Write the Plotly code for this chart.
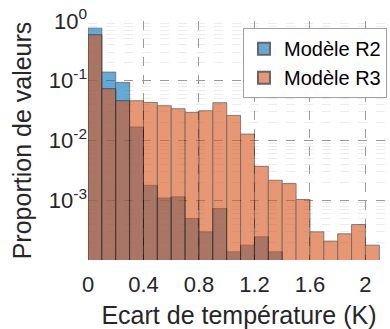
import plotly.graph_objects as go

# Bin centers (bin width 0.1 K)
bins_r3 = [0.05, 0.15, 0.25, 0.35, 0.45, 0.55, 0.65, 0.75, 0.85, 0.95,
           1.05, 1.15, 1.25, 1.35, 1.45, 1.55, 1.65, 1.75, 1.85, 1.95, 2.05]
vals_r3 = [0.587, 0.0735, 0.0463, 0.0463, 0.0434, 0.0382, 0.0340, 0.0296, 0.0315, 0.0429,
           0.0263, 0.0128, 0.0037, 0.00216, 0.0019, 0.00103, 0.000296, 0.000207, 0.000274,
           0.000392, 0.000177]

bins_r2 = [0.05, 0.15, 0.25, 0.35, 0.45, 0.55, 0.65, 0.75, 0.85, 0.95,
           1.05, 1.15, 1.25, 1.35]
vals_r2 = [0.759, 0.1396, 0.0938, 0.0168, 0.00178, 0.00109, 0.00114, 0.000494, 0.000296,
           0.000726, 0.000137, 0.000177, 0.000244, 0.000137]

x_ticks = [0, 0.4, 0.8, 1.2, 1.6, 2]
x_tick_labels = ["0", "0.4", "0.8", "1.2", "1.6", "2"]
y_ticks = [1e-3, 1e-2, 1e-1, 1]
y_tick_labels = ["10<sup>-3</sup>", "10<sup>-2</sup>", "10<sup>-1</sup>", "10<sup>0</sup>"]

font_family = "Liberation Sans, Arial, sans-serif"

fig = go.Figure()
fig.add_trace(go.Bar(
    x=bins_r2, y=vals_r2, width=0.1, name="Modèle R2",
    marker=dict(color="rgb(0,114,189)", line=dict(color="black", width=0.8)),
    opacity=0.6,
))
fig.add_trace(go.Bar(
    x=bins_r3, y=vals_r3, width=0.1, name="Modèle R3",
    marker=dict(color="rgb(217,83,25)", line=dict(color="black", width=0.8)),
    opacity=0.6,
))

fig.update_layout(
    width=390, height=329,
    margin=dict(l=88, r=0, t=21, b=69),
    barmode="overlay",
    plot_bgcolor="white", paper_bgcolor="white",
    font=dict(family=font_family, color="#262626"),
    showlegend=True,
    legend=dict(
        x=0.99, xanchor="right", y=0.97, yanchor="top",
        bgcolor="white", bordercolor="#a0a0a0", borderwidth=1,
        font=dict(size=20, color="#000000"),
        tracegroupgap=0, itemsizing="constant",
    ),
    xaxis=dict(
        range=[0, 2.177],
        tickvals=x_ticks, ticktext=x_tick_labels,
        tickfont=dict(size=22), ticklabelstandoff=9, ticklabeloverflow="allow",
        showgrid=True, gridcolor="#9a9a9a", griddash="dash", gridwidth=1,
        showline=False, zeroline=False, ticks="", automargin=False,
        title=dict(text="Ecart de température (K)", font=dict(size=25), standoff=12),
    ),
    yaxis=dict(
        type="log", range=[-4, 0],
        tickvals=y_ticks, ticktext=y_tick_labels,
        tickfont=dict(size=22), ticklabeloverflow="allow",
        showgrid=True, gridcolor="#9a9a9a", griddash="dash", gridwidth=1,
        minor=dict(showgrid=True, gridcolor="#ececec", dtick="D1", ticks=""),
        showline=False, zeroline=False, ticks="", automargin=False,
        title=dict(text="Proportion de valeurs", font=dict(size=25), standoff=10),
    ),
)

fig.write_html(
    "out.html",
    config={"displayModeBar": False},
    post_script="document.body.style.margin='0';document.body.style.overflow='hidden';",
)
